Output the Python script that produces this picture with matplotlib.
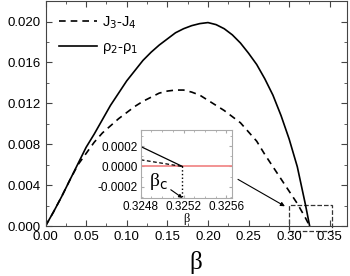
import matplotlib.pyplot as plt
import numpy as np
from matplotlib.patches import Rectangle
from matplotlib.ticker import MultipleLocator, FormatStrFormatter

plt.rcParams['font.family'] = ['Liberation Sans', 'DejaVu Sans']

# values
beta = [0.0, 0.01, 0.02, 0.03, 0.04, 0.05, 0.06, 0.07, 0.08, 0.09, 0.10, 0.11,
        0.12, 0.13, 0.14, 0.15, 0.16, 0.17, 0.18, 0.19, 0.20, 0.21, 0.22, 0.23,
        0.24, 0.25, 0.26, 0.27, 0.28, 0.29, 0.30, 0.31, 0.32, 0.3252]
rho_diff = [0.0, 0.0014, 0.0029, 0.0045, 0.0061, 0.0077, 0.0090, 0.0104, 0.0118,
            0.0130, 0.0142, 0.0152, 0.0162, 0.0170, 0.0177, 0.0183, 0.0189, 0.0193,
            0.0196, 0.0198, 0.0199, 0.0197, 0.0193, 0.0187, 0.0179, 0.0169, 0.0158,
            0.0144, 0.0128, 0.0108, 0.0085, 0.0058, 0.0021, 0.0]
j_diff = [0.0, 0.0014, 0.0029, 0.0045, 0.0060, 0.0071, 0.0082, 0.0091, 0.0098,
          0.0105, 0.0111, 0.0117, 0.0122, 0.0126, 0.0130, 0.0132, 0.0133, 0.0133,
          0.0131, 0.0128, 0.0123, 0.0118, 0.0113, 0.0107, 0.0101, 0.0092, 0.0083,
          0.0070, 0.0058, 0.0046, 0.0034, 0.0022, 0.0008, 0.0]

# inset (zoom near beta_c)
beta_c = 0.32519
in_x = [0.3248, beta_c]
in_rho = [0.000197, 0.0]
in_j = [0.000066, 0.0]

fig = plt.figure(figsize=(3.5, 2.76), dpi=100)
ax = fig.add_axes([0.13, 0.181, 0.861, 0.815])

ax.plot(beta, j_diff, 'k--', lw=1.2, dashes=(4, 3), label='J$_3$-J$_4$')
ax.plot(beta, rho_diff, 'k-', lw=1.2, label='ρ$_2$-ρ$_1$')

ax.set_xlim(0, 0.371)
ax.set_ylim(0, 0.022)
ax.xaxis.set_major_locator(MultipleLocator(0.05))
ax.xaxis.set_minor_locator(MultipleLocator(0.025))
ax.yaxis.set_major_locator(MultipleLocator(0.004))
ax.yaxis.set_minor_locator(MultipleLocator(0.002))
ax.xaxis.set_major_formatter(FormatStrFormatter('%.2f'))
ax.yaxis.set_major_formatter(FormatStrFormatter('%.3f'))
ax.tick_params(which='both', direction='in', top=True, right=True, labelsize=9.5,
               color='#444444')
ax.tick_params(which='major', length=4)
ax.tick_params(which='minor', length=2)
for s in ax.spines.values():
    s.set_color('#444444')
ax.set_xlabel('β', family='Liberation Serif', fontsize=18, labelpad=6)

leg = ax.legend(loc='upper left', frameon=False, fontsize=10.5, handlelength=2.6,
                borderaxespad=0.5, labelspacing=0.6, handletextpad=0.4)

# dashed zoom box and arrow
ax.add_patch(Rectangle((0.30, -0.0005), 0.053, 0.00255, fill=False, ls='--',
                       lw=0.9, ec='#333333', clip_on=False))
ax.annotate('', xy=(0.2977, 0.0018), xytext=(0.234, 0.0047),
            arrowprops=dict(arrowstyle='-|>', lw=0.8, color='black',
                            mutation_scale=6))

# inset
ins = fig.add_axes([0.402, 0.283, 0.26, 0.246])
ins.axhline(0, color='#f08080', lw=1.2)
ins.plot(in_x, in_rho, 'k-', lw=0.9)
ins.plot(in_x, in_j, 'k--', lw=0.9, dashes=(3, 2))
ins.plot([beta_c, beta_c], [0, -0.00031], 'k:', lw=1.0)
ins.set_xlim(0.3248, 0.32565)
ins.set_ylim(-0.00031, 0.00036)
ins.set_xticks([0.3248, 0.3252, 0.3256])
ins.set_yticks([-0.0002, 0.0, 0.0002])
ins.xaxis.set_minor_locator(MultipleLocator(0.0001))
ins.yaxis.set_minor_locator(MultipleLocator(0.0001))
ins.xaxis.set_major_formatter(FormatStrFormatter('%.4f'))
ins.yaxis.set_major_formatter(FormatStrFormatter('%.4f'))
ins.tick_params(which='both', direction='in', top=True, right=True, labelsize=8.5,
                color='#aaaaaa', pad=2)
ins.tick_params(which='major', length=2.5)
ins.tick_params(which='minor', length=1.5)
for s in ins.spines.values():
    s.set_color('#aaaaaa')
ins.set_xlabel('β', family='Liberation Serif', fontsize=9, labelpad=0)
ins.annotate('β$_{\\rm c}$', xy=(beta_c, -0.00031), xytext=(0.32488, -0.00019),
             fontsize=14, family='Liberation Serif',
             arrowprops=dict(arrowstyle='-|>', lw=0.8, color='black',
                             mutation_scale=5, shrinkA=0, shrinkB=0))

fig.savefig('out.png', dpi=100)
